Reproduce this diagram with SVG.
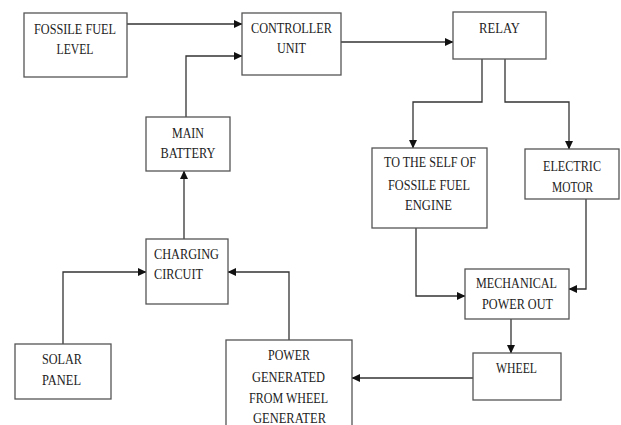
<svg xmlns="http://www.w3.org/2000/svg" width="621" height="425" viewBox="0 0 621 425">
<style>
.box{fill:#fff;stroke:#555;stroke-width:1.3}
.t{font-family:"Liberation Serif","Times New Roman",serif;font-size:15px;fill:#222;text-anchor:middle}
.l{text-anchor:start}
.c{fill:none;stroke:#333;stroke-width:1.3}
</style>
<defs>
<marker id="ah" markerUnits="userSpaceOnUse" markerWidth="9" markerHeight="9" viewBox="0 0 9 9" refX="8" refY="4.5" orient="auto">
<path d="M0,0.5 L8.5,4.5 L0,8.5 z" fill="#111"/>
</marker>
</defs>
<rect width="621" height="425" fill="#fff"/>
<g id="connectors">
<path class="c" d="M127,24 H242" marker-end="url(#ah)"/>
<path class="c" d="M186,117 V56 H242" marker-end="url(#ah)"/>
<path class="c" d="M341,42 H453" marker-end="url(#ah)"/>
<path class="c" d="M482,59 V102 H413 V148" marker-end="url(#ah)"/>
<path class="c" d="M505,59 V102 H569 V149" marker-end="url(#ah)"/>
<path class="c" d="M416,228 V296 H465" marker-end="url(#ah)"/>
<path class="c" d="M586,199 V289 H569" marker-end="url(#ah)"/>
<path class="c" d="M511,319 V353" marker-end="url(#ah)"/>
<path class="c" d="M473,378 H352" marker-end="url(#ah)"/>
<path class="c" d="M289,340 V272 H228" marker-end="url(#ah)"/>
<path class="c" d="M63,344 V272 H146" marker-end="url(#ah)"/>
<path class="c" d="M184,239 V171" marker-end="url(#ah)"/>
</g>
<g id="fossil-fuel-level">
<rect class="box" x="24" y="13" width="103" height="64"/>
<text class="t" x="75" y="34" textLength="82" lengthAdjust="spacingAndGlyphs">FOSSILE FUEL</text>
<text class="t" x="75" y="54" textLength="37" lengthAdjust="spacingAndGlyphs">LEVEL</text>
</g>
<g id="controller-unit">
<rect class="box" x="242" y="13" width="99" height="62"/>
<text class="t" x="291.5" y="33" textLength="81" lengthAdjust="spacingAndGlyphs">CONTROLLER</text>
<text class="t" x="291.5" y="53" textLength="29" lengthAdjust="spacingAndGlyphs">UNIT</text>
</g>
<g id="relay">
<rect class="box" x="453" y="12" width="93" height="47"/>
<text class="t" x="499.5" y="33" textLength="41" lengthAdjust="spacingAndGlyphs">RELAY</text>
</g>
<g id="main-battery">
<rect class="box" x="146" y="117" width="84" height="54"/>
<text class="t" x="188" y="138" textLength="32" lengthAdjust="spacingAndGlyphs">MAIN</text>
<text class="t" x="188" y="158" textLength="55" lengthAdjust="spacingAndGlyphs">BATTERY</text>
</g>
<g id="charging-circuit">
<rect class="box" x="146" y="239" width="82" height="65"/>
<text class="t l" x="154" y="259" textLength="65" lengthAdjust="spacingAndGlyphs">CHARGING</text>
<text class="t l" x="154" y="279" textLength="49" lengthAdjust="spacingAndGlyphs">CIRCUIT</text>
</g>
<g id="fossil-fuel-engine">
<rect class="box" x="372" y="148" width="115" height="80"/>
<text class="t" x="430" y="167" textLength="92" lengthAdjust="spacingAndGlyphs">TO THE SELF OF</text>
<text class="t" x="429" y="190" textLength="82" lengthAdjust="spacingAndGlyphs">FOSSILE FUEL</text>
<text class="t" x="428.5" y="210" textLength="47" lengthAdjust="spacingAndGlyphs">ENGINE</text>
</g>
<g id="electric-motor">
<rect class="box" x="525" y="149" width="94" height="50"/>
<text class="t" x="572" y="171" textLength="58" lengthAdjust="spacingAndGlyphs">ELECTRIC</text>
<text class="t" x="572.5" y="192" textLength="41" lengthAdjust="spacingAndGlyphs">MOTOR</text>
</g>
<g id="mechanical-power-out">
<rect class="box" x="465" y="269" width="104" height="50"/>
<text class="t" x="516.5" y="288" textLength="81" lengthAdjust="spacingAndGlyphs">MECHANICAL</text>
<text class="t" x="517.5" y="309" textLength="71" lengthAdjust="spacingAndGlyphs">POWER OUT</text>
</g>
<g id="wheel">
<rect class="box" x="473" y="353" width="88" height="47"/>
<text class="t" x="516.5" y="373" textLength="41" lengthAdjust="spacingAndGlyphs">WHEEL</text>
</g>
<g id="solar-panel">
<rect class="box" x="15" y="344" width="96" height="55"/>
<text class="t" x="62" y="364" textLength="40" lengthAdjust="spacingAndGlyphs">SOLAR</text>
<text class="t" x="61.5" y="385" textLength="39" lengthAdjust="spacingAndGlyphs">PANEL</text>
</g>
<g id="power-generated">
<rect class="box" x="226" y="340" width="126" height="100"/>
<text class="t" x="289" y="360" textLength="42" lengthAdjust="spacingAndGlyphs">POWER</text>
<text class="t" x="288.5" y="382" textLength="73" lengthAdjust="spacingAndGlyphs">GENERATED</text>
<text class="t" x="288.5" y="403" textLength="79" lengthAdjust="spacingAndGlyphs">FROM WHEEL</text>
<text class="t" x="289.5" y="423" textLength="73" lengthAdjust="spacingAndGlyphs">GENERATER</text>
</g>
</svg>
